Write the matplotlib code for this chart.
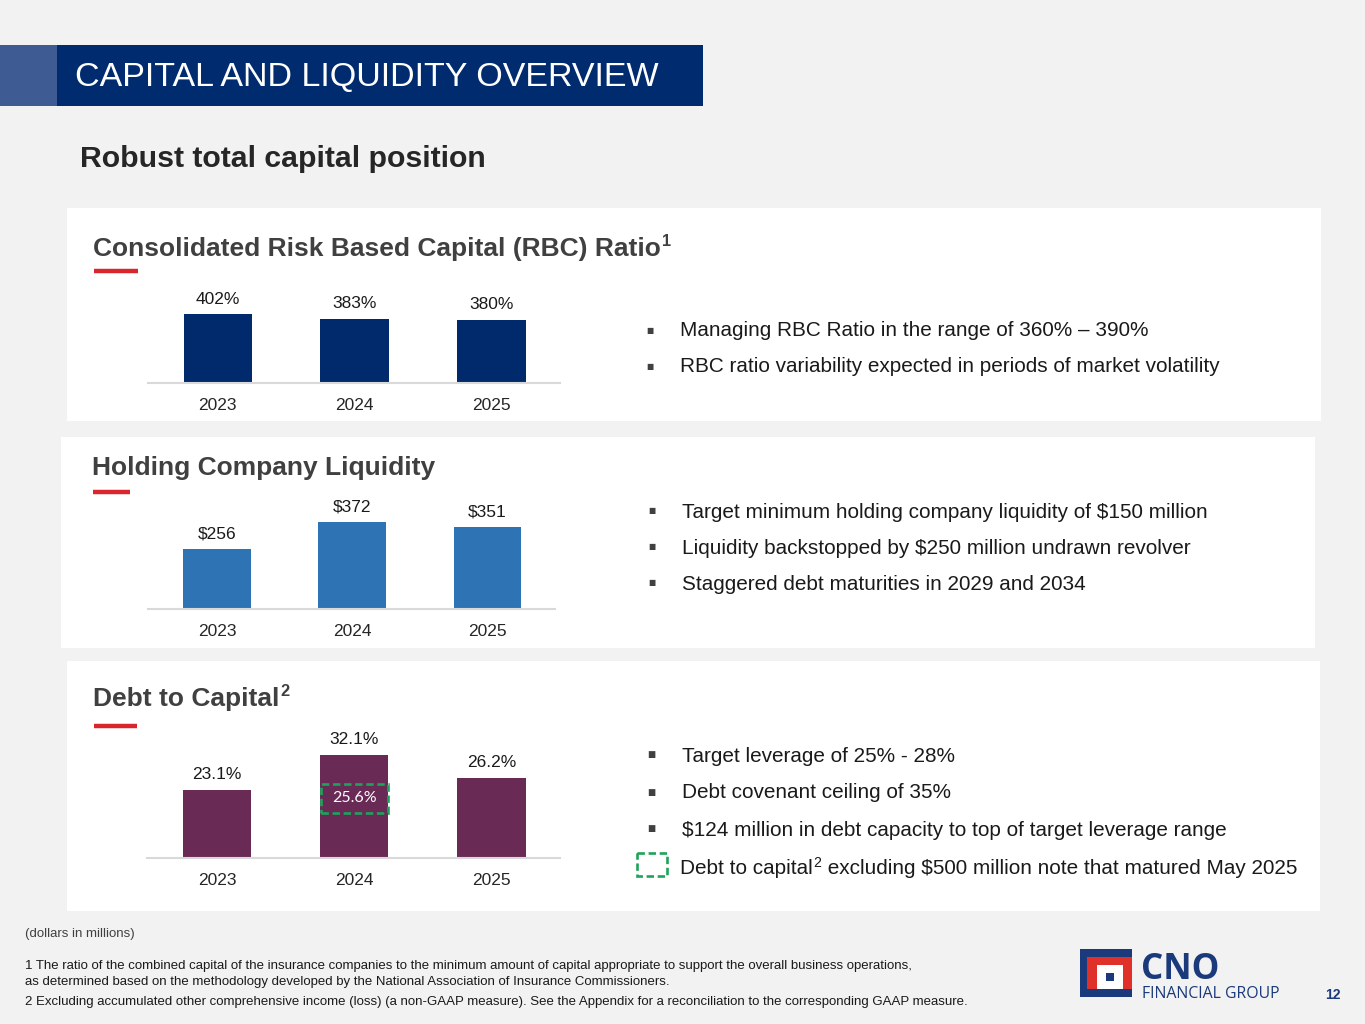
import matplotlib
matplotlib.use('Agg')
import matplotlib.pyplot as plt
from matplotlib.patches import Rectangle

# ---------------- data ----------------
years = ['2023', '2024', '2025']
rbc_ratio = [402, 383, 380]
holdco_liquidity = [256, 372, 351]
debt_to_capital = [23.1, 32.1, 26.2]
debt_to_capital_ex_note = 25.6          # 2024, excluding $500M note
ex_note_year_index = 1

rbc_labels = [f'{v}%' for v in rbc_ratio]
liq_labels = [f'${v}' for v in holdco_liquidity]
dtc_labels = [f'{v:.1f}%' for v in debt_to_capital]

rbc_bullets = ['Managing RBC Ratio in the range of 360% \u2013 390%',
               'RBC ratio variability expected in periods of market volatility']
liq_bullets = ['Target minimum holding company liquidity of $150 million',
               'Liquidity backstopped by $250 million undrawn revolver',
               'Staggered debt maturities in 2029 and 2034']
dtc_bullets = ['Target leverage of 25% - 28%',
               'Debt covenant ceiling of 35%',
               '$124 million in debt capacity to top of target leverage range']

# ---------------- style ----------------
W, H = 1365, 1024
BG = '#f2f2f2'
NAVY = '#002a6c'
BLUE = '#2e74b5'
PLUM = '#6a2a56'
GREEN = '#1ea35a'
RED = '#d9262c'
TITLE_C = '#404040'
TXT = '#1a1a1a'
DY = 2  # small vertical nudge for text centring

plt.rcParams['font.family'] = ['Liberation Sans', 'DejaVu Sans']

fig = plt.figure(figsize=(W / 100, H / 100), dpi=100, facecolor=BG)
bg = fig.add_axes([0, 0, 1, 1])
bg.set_xlim(0, W)
bg.set_ylim(H, 0)
bg.axis('off')
renderer = fig.canvas.get_renderer()


def rect(x0, y0, x1, y1, color, z=0):
    bg.add_patch(Rectangle((x0, y0), x1 - x0, y1 - y0, facecolor=color,
                           edgecolor='none', zorder=z))


def fit_size(s, width, **kw):
    t = bg.text(0, 0, s, fontsize=10, parse_math=False, **kw)
    w = t.get_window_extent(renderer).width
    t.remove()
    return 10 * width / w


def put(x, y, s, size, **kw):
    kw.setdefault('va', 'center')
    kw.setdefault('ha', 'left')
    return bg.text(x, y + DY, s, fontsize=size, parse_math=False, **kw)


def x1_of(t):
    return t.get_window_extent(renderer).x1


# ---------------- header ----------------
rect(0, 45, 57, 106, '#3e5c93')
rect(57, 45, 703, 106, '#002b6f')
hs = fit_size('CAPITAL AND LIQUIDITY OVERVIEW', 585)
put(75, 76, 'CAPITAL AND LIQUIDITY OVERVIEW', hs, color='white')

rs = fit_size('Robust total capital position', 406, fontweight='bold')
put(80, 157, 'Robust total capital position', rs, color='#262626', fontweight='bold')

# ---------------- panels ----------------
rect(67, 208, 1321, 421, 'white')
rect(61, 437, 1315, 648, 'white')
rect(67, 661, 1320, 911, 'white')

ts = fit_size('Holding Company Liquidity', 344, fontweight='bold')


def title(x, y, s, sup, line_x1, line_y):
    t = put(x, y, s, ts, color=TITLE_C, fontweight='bold')
    if sup:
        put(x1_of(t) + 1, y - 7, sup, ts * 0.62, color=TITLE_C, fontweight='bold')
    bg.plot([x + 1, line_x1], [line_y, line_y], color=RED, lw=3.2,
            solid_capstyle='butt')


title(93, 247, 'Consolidated Risk Based Capital (RBC) Ratio', '1', 138, 271)
title(92, 466, 'Holding Company Liquidity', None, 130, 492)
title(93, 697, 'Debt to Capital', '2', 137, 726)

# ---------------- charts ----------------


def px_axes(x0, y_top, x1, y_bottom):
    return fig.add_axes([x0 / W, 1 - y_bottom / H, (x1 - x0) / W,
                         (y_bottom - y_top) / H])


def bar_chart(ax, values, labels, color, ylim):
    x = range(len(values))
    ax.bar(x, values, width=0.5, color=color, zorder=2)
    ax.set_xlim(-0.51, 2.5)
    ax.set_ylim(*ylim)
    ax.set_facecolor('none')
    for s in ['top', 'left', 'right']:
        ax.spines[s].set_visible(False)
    ax.spines['bottom'].set_color('#d9d9d9')
    ax.spines['bottom'].set_linewidth(1.5)
    ax.set_yticks([])
    ax.set_xticks(list(x))
    ax.set_xticklabels(years, fontsize=12.5, color='#262626')
    ax.tick_params(axis='x', length=0, pad=11)
    for i, (v, lab) in enumerate(zip(values, labels)):
        ax.annotate(lab, (i, v), xytext=(0, 15), textcoords='offset pixels',
                    ha='center', va='center', fontsize=12.5, color=TXT,
                    annotation_clip=False)


ax1 = px_axes(148, 283, 560, 383)
bar_chart(ax1, rbc_ratio, rbc_labels, NAVY, (110, 535.5))

ax2 = px_axes(148, 509, 555, 609)
bar_chart(ax2, holdco_liquidity, liq_labels, BLUE, (0, 430))

ax3 = px_axes(147, 738, 560, 858)
lo3 = 5.6
bar_chart(ax3, debt_to_capital, dtc_labels, PLUM, (lo3, 36.45))

# dashed box for 2024 excluding the matured note
v = debt_to_capital[ex_note_year_index]
yb = lo3 + 0.437 * (v - lo3)
yt = lo3 + 0.718 * (v - lo3)
ax3.add_patch(Rectangle((ex_note_year_index - 0.245, yb), 0.49, yt - yb,
                        facecolor='none', edgecolor=GREEN, lw=1.9,
                        linestyle=(0, (2.8, 1.4)), zorder=3))
ax3.text(ex_note_year_index, (yb + yt) / 2, f'{debt_to_capital_ex_note:.1f}%',
         ha='center', va='center', color='white', fontsize=11.5,
         family=['Lato', 'DejaVu Sans'], zorder=4)

# ---------------- bullets ----------------
bs = fit_size(dtc_bullets[2], 546)


def bullet(xb, xt, y, s, bsize=5.5):
    put(xb, y - 1, '\u25a0', bsize, color='#404040', ha='center',
        family=['DejaVu Sans'])
    return put(xt, y, s, bs, color=TXT)


for s, y in zip(rbc_bullets, [329, 365]):
    bullet(650, 680, y, s)
for s, y in zip(liq_bullets, [510, 546, 582]):
    bullet(652, 682, y, s)
for s, y in zip(dtc_bullets, [754, 791, 828]):
    bullet(651, 682, y, s, 6.2)

# legend entry for the dashed box
bg.add_patch(Rectangle((637, 853), 30, 23, facecolor='none', edgecolor=GREEN,
                       lw=1.9, linestyle=(0, (2.8, 1.4)), zorder=3))
t = put(680, 866, 'Debt to capital', bs, color=TXT)
t2 = put(x1_of(t) + 1, 861, '2', bs * 0.68, color=TXT)
put(x1_of(t2), 866, ' excluding $500 million note that matured May 2025', bs,
    color=TXT)

# ---------------- footnotes ----------------
fn2 = ('2 Excluding accumulated other comprehensive income (loss) (a non-GAAP measure). '
       'See the Appendix for a reconciliation to the corresponding GAAP measure.')
fs = fit_size(fn2, 948)
put(25, 932, '(dollars in millions)', fs, color='#404040')
put(25, 964, '1 The ratio of the combined capital of the insurance companies to the minimum '
    'amount of capital appropriate to support the overall business operations,', fs,
    color=TXT)
put(25, 980, 'as determined based on the methodology developed by the National '
    'Association of Insurance Commissioners.', fs, color=TXT)
put(25, 1000, fn2, fs, color=TXT)

# ---------------- logo & page number ----------------
LOGO_NAVY = '#1b3a7c'
LOGO_RED = '#e0302a'
rect(1080, 949, 1132, 997, LOGO_NAVY, 1)
rect(1087, 957, 1132, 989, LOGO_RED, 2)
rect(1097, 965, 1123, 989, 'white', 3)
rect(1106, 973, 1114, 981, LOGO_NAVY, 4)
cs = fit_size('CNO', 78, fontweight='bold', family=['Open Sans', 'DejaVu Sans'])
put(1141, 968, 'CNO', cs, color=LOGO_NAVY, fontweight='bold',
    family=['Open Sans', 'DejaVu Sans'])
gs = fit_size('FINANCIAL GROUP', 138, family=['Open Sans', 'DejaVu Sans'])
put(1142, 992, 'FINANCIAL GROUP', gs, color=LOGO_NAVY,
    family=['Open Sans', 'DejaVu Sans'])
put(1340, 993, '12', 10, color=LOGO_NAVY, fontweight='bold', ha='right')

fig.savefig('out.png', dpi=100, facecolor=BG)
